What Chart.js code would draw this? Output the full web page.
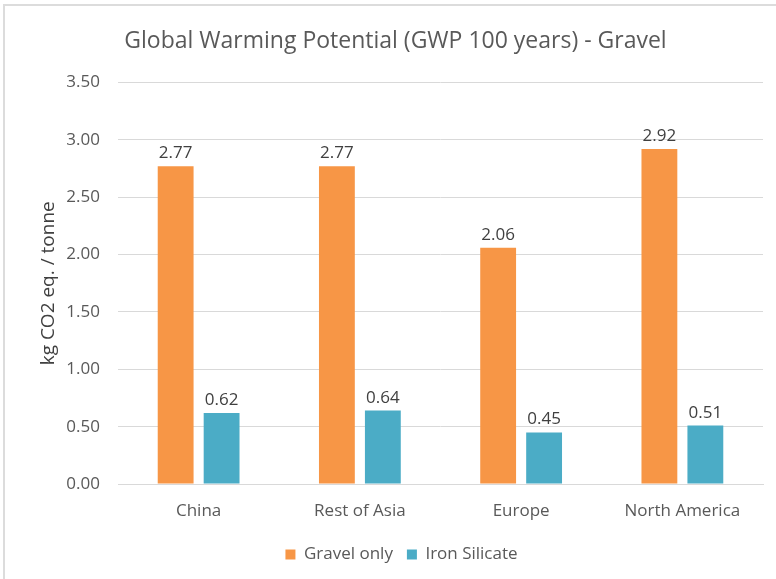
<!DOCTYPE html>
<html>
<head>
<meta charset="utf-8">
<script src="https://cdn.jsdelivr.net/npm/chart.js@4"></script>
<style>
  html, body { margin: 0; padding: 0; background: #fff; }
  #wrap { position: absolute; left: 0; top: 0; width: 776px; height: 579px; }
  #frame { position: absolute; left: 3px; top: 4px; width: 773px; height: 575px;
           border-top: 2px solid #dcdcdc; border-left: 2px solid #dcdcdc; box-sizing: border-box; }
</style>
</head>
<body>
<div id="wrap">
  <canvas id="myChart" width="776" height="579"></canvas>
  <div id="frame"></div>
</div>
<script>
let regions = ["China", "Rest of Asia", "Europe", "North America"],
    gravelOnly = [2.77, 2.77, 2.06, 2.92],
    ironSilicate = [0.62, 0.64, 0.45, 0.51],
    yTicks = [0, 0.5, 1, 1.5, 2, 2.5, 3, 3.5];

const grey = "#595959",
      fontFamily = "'Open Sans', 'Liberation Sans', sans-serif";

// value labels over each bar
const barValues = {
  id: "barValues",
  afterDatasetsDraw(chart) {
    let ctx = chart.ctx;
    ctx.save();
    ctx.font = "17px " + fontFamily;
    ctx.fillStyle = "#404040";
    ctx.textAlign = "center";
    ctx.textBaseline = "alphabetic";
    chart.data.datasets.forEach((ds, i) => {
      chart.getDatasetMeta(i).data.forEach((bar, j) => {
        ctx.fillText(ds.data[j].toFixed(2), bar.x, bar.y - 8);
      });
    });
    ctx.restore();
  }
};

// centre title and legend a little right of the canvas middle
const shiftBlocks = {
  id: "shiftBlocks",
  afterLayout(chart) {
    chart.titleBlock.left += 14;
    chart.titleBlock.right += 14;
    chart.legend.left += 20;
    chart.legend.right += 20;
  }
};

let ctx = document.getElementById("myChart").getContext("2d");
new Chart(ctx, {
  type: "bar",
  data: {
    labels: regions,
    datasets: [
      { label: "Gravel only", data: gravelOnly, backgroundColor: "#F79646" },
      { label: "Iron Silicate", data: ironSilicate, backgroundColor: "#4BACC6" }
    ]
  },
  options: {
    responsive: false,
    animation: false,
    layout: { padding: { left: 0, right: 13, top: 0, bottom: 6 } },
    datasets: { bar: { categoryPercentage: 0.57, barPercentage: 0.78 } },
    plugins: {
      title: {
        display: true,
        text: "Global Warming Potential (GWP 100 years) - Gravel",
        color: grey,
        font: { family: fontFamily, size: 23, weight: "normal" },
        padding: { top: 28, bottom: 27 }
      },
      legend: {
        position: "bottom",
        labels: {
          color: grey,
          font: { family: fontFamily, size: 17 },
          boxWidth: 10,
          boxHeight: 10,
          padding: 14
        }
      },
      tooltip: { enabled: false }
    },
    scales: {
      x: {
        grid: { display: false, drawTicks: false },
        border: { color: "#d9d9d9" },
        ticks: { color: grey, font: { family: fontFamily, size: 17 }, padding: 17 },
        afterFit: (scale) => { scale.height = 48; }
      },
      y: {
        min: 0,
        max: 3.5,
        afterBuildTicks: (scale) => { scale.ticks = yTicks.map(v => ({ value: v })); },
        grid: { color: "#d9d9d9", drawTicks: false },
        border: { display: false },
        ticks: {
          color: grey,
          font: { family: fontFamily, size: 17 },
          padding: 18,
          callback: (v) => v.toFixed(2)
        },
        title: {
          display: true,
          text: "kg CO2 eq. / tonne",
          color: "#404040",
          font: { family: fontFamily, size: 19 },
          padding: { top: 37 }
        },
        afterFit: (scale) => { scale.width = 118; }
      }
    }
  },
  plugins: [barValues, shiftBlocks]
});
</script>
</body>
</html>
